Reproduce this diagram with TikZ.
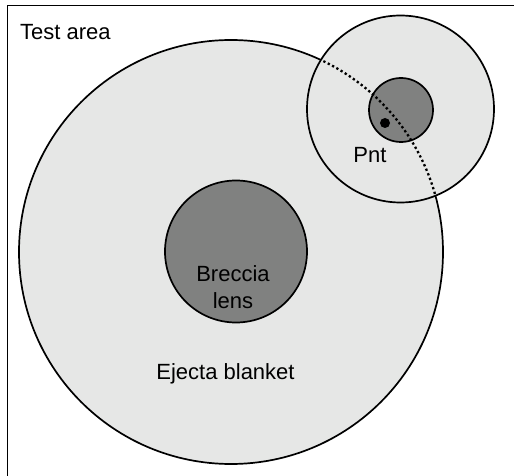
\documentclass[tikz,border=0pt]{standalone}
\usepackage{fontspec}
\setmainfont{Liberation Sans}
\begin{document}
\begin{tikzpicture}[x=1pt,y=-1pt,
  outline/.style={draw=black,line width=1.7pt},
  lightfill/.style={fill=lightgray0},
  darkfill/.style={fill=darkgray0},
  lbl/.style={font=\fontsize{22}{27}\selectfont,inner sep=0pt,text=black}]
\definecolor{lightgray0}{HTML}{E6E7E6}
\definecolor{darkgray0}{HTML}{808180}
\useasboundingbox (0,0) rectangle (514,476);
% frame (top and left sides)
\draw[line width=1.8pt] (514,5.5) -- (7.5,5.5) -- (7.5,476);
% ejecta blanket
\coordinate (bigc) at (231,252);
\draw[outline,lightfill] (bigc) circle[radius=212pt];
% test point circle
\coordinate (smallc) at (400.5,109);
\draw[outline,lightfill] (smallc) circle[radius=93.5pt];
% breccia lens
\coordinate (brc) at (236,251.5);
\draw[outline,darkfill] (brc) circle[radius=71pt];
% inner dark circle
\coordinate (pc) at (401,110);
\draw[outline,darkfill] (pc) circle[radius=32pt];
% dotted continuation of the blanket rim
\begin{scope}
  \clip (smallc) circle[radius=93.5pt];
  \draw[line width=2.3pt,dash pattern=on 2.3pt off 2.6pt] (bigc) circle[radius=212pt];
\end{scope}
% point
\fill[black] (385,123) circle[radius=5pt];
% labels
\node[lbl,anchor=base west] (testarea) at (20,40) {Test area};
\node[lbl,anchor=base] (pnt) at (370,163) {Pnt};
\node[lbl,anchor=base,align=center] (breccia) at (233,281) {Breccia};
\node[lbl,anchor=base] (lens) at (233,308) {lens};
\node[lbl,anchor=base] (ejecta) at (225.5,379) {Ejecta blanket};
\end{tikzpicture}
\end{document}
